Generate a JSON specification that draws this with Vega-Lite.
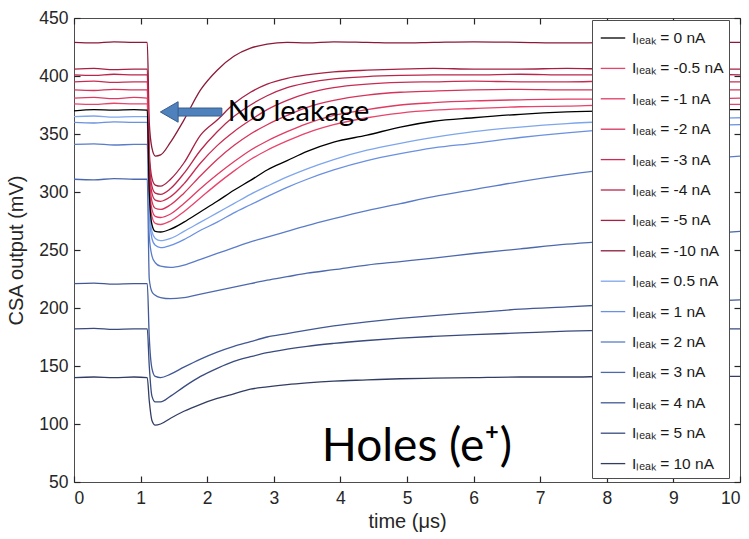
{
  "$schema": "https://vega.github.io/schema/vega-lite/v6.json",
  "width": 666,
  "height": 464,
  "autosize": {"type": "none"},
  "padding": {"left": 74, "top": 18, "right": 9, "bottom": 57},
  "background": "white",
  "config": {
    "view": {"stroke": "#4d4d4d", "strokeWidth": 1},
    "font": "Liberation Sans",
    "legend": {"labelFont": "Liberation Sans"}
  },
  "datasets": {
    "main": [
      {"t":0,"n0":370,"m05":376,"m1":381,"m2":388,"m3":395,"m4":401,"m5":406,"m10":429,"p05":365,"p1":360,"p2":341,"p3":311,"p4":221,"p5":182,"p10":140},
      {"t":0.3,"n0":371,"m05":375.5,"m1":381.5,"m2":387.5,"m3":395.5,"m4":400.5,"m5":406.5,"m10":428.5,"p05":365.5,"p1":359.5,"p2":341.5,"p3":310.5,"p4":221.5,"p5":182.5,"p10":140.5},
      {"t":0.6,"n0":370.5,"m05":376.5,"m1":380.5,"m2":388.5,"m3":394.5,"m4":401.5,"m5":405.5,"m10":429.5,"p05":364.5,"p1":360.5,"p2":340.5,"p3":311.5,"p4":220.5,"p5":181.5,"p10":140},
      {"t":0.9,"n0":371,"m05":376,"m1":381.5,"m2":388,"m3":395,"m4":401,"m5":406,"m10":429,"p05":365,"p1":360,"p2":341,"p3":311,"p4":221,"p5":182,"p10":140.5},
      {"t":1.1,"n0":370.5,"m05":376,"m1":381,"m2":388,"m3":395,"m4":401,"m5":406,"m10":429,"p05":365,"p1":360,"p2":341,"p3":311,"p4":221,"p5":182,"p10":140},
      {"t":1.13,"n0":300,"m05":302,"m1":308,"m2":315,"m3":322,"m4":328,"m5":335,"m10":360,"p05":290,"p1":284,"p2":262,"p3":225,"p4":175,"p5":150,"p10":120},
      {"t":1.17,"n0":272,"m05":279,"m1":285,"m2":292,"m3":299,"m4":305,"m5":312,"m10":338,"p05":266,"p1":260,"p2":245,"p3":214,"p4":148,"p5":124,"p10":103},
      {"t":1.22,"n0":266,"m05":273,"m1":279,"m2":286,"m3":293,"m4":299,"m5":306,"m10":331,"p05":260,"p1":254,"p2":239,"p3":211,"p4":141,"p5":119,"p10":99},
      {"t":1.3,"n0":265.5,"m05":272,"m1":278,"m2":285,"m3":292,"m4":298,"m5":305,"m10":332,"p05":258,"p1":252,"p2":236,"p3":209,"p4":140,"p5":119,"p10":100},
      {"t":1.45,"n0":268,"m05":275,"m1":281,"m2":289,"m3":296,"m4":303,"m5":311,"m10":343,"p05":260,"p1":254,"p2":235,"p3":208,"p4":143,"p5":124,"p10":105},
      {"t":1.65,"n0":274,"m05":283,"m1":290,"m2":299,"m3":307,"m4":316,"m5":325,"m10":362,"p05":266,"p1":259,"p2":237,"p3":209,"p4":149,"p5":132,"p10":111},
      {"t":1.9,"n0":283,"m05":295,"m1":303,"m2":314,"m3":325,"m4":336,"m5":349,"m10":388,"p05":274,"p1":267,"p2":242,"p3":212,"p4":156,"p5":141,"p10":117},
      {"t":2.15,"n0":292,"m05":307,"m1":315,"m2":328,"m3":340,"m4":352,"m5":362,"m10":405,"p05":282,"p1":274,"p2":247,"p3":215,"p4":162,"p5":148,"p10":122},
      {"t":2.4,"n0":301.5,"m05":318,"m1":326,"m2":340,"m3":352,"m4":365,"m5":376,"m10":417,"p05":290,"p1":282,"p2":252,"p3":218,"p4":167,"p5":154,"p10":126},
      {"t":2.65,"n0":310,"m05":328,"m1":336,"m2":350,"m3":362,"m4":375,"m5":386,"m10":424,"p05":298,"p1":289,"p2":257,"p3":221,"p4":171,"p5":158,"p10":130},
      {"t":2.9,"n0":319,"m05":336,"m1":344,"m2":358,"m3":371,"m4":383,"m5":393,"m10":427.5,"p05":305,"p1":296,"p2":261,"p3":224,"p4":175,"p5":161.5,"p10":132},
      {"t":3.2,"n0":327,"m05":344,"m1":352,"m2":366,"m3":379,"m4":390,"m5":398,"m10":429,"p05":313,"p1":304,"p2":266,"p3":227,"p4":178,"p5":164.5,"p10":134},
      {"t":3.5,"n0":335,"m05":351,"m1":359,"m2":373,"m3":385,"m4":394,"m5":401,"m10":428.5,"p05":320,"p1":311,"p2":271,"p3":230,"p4":181,"p5":167,"p10":135.5},
      {"t":3.9,"n0":343,"m05":358,"m1":366,"m2":379,"m3":390,"m4":397.5,"m5":403.5,"m10":429.5,"p05":328,"p1":319,"p2":277,"p3":233,"p4":184.5,"p5":169.5,"p10":137},
      {"t":4.4,"n0":349,"m05":364,"m1":371,"m2":383.5,"m3":393,"m4":399.5,"m5":405,"m10":429,"p05":336,"p1":327,"p2":284,"p3":237,"p4":188,"p5":172,"p10":138},
      {"t":4.9,"n0":356,"m05":368,"m1":375,"m2":386,"m3":394.5,"m4":400.5,"m5":406,"m10":428.5,"p05":342,"p1":333,"p2":290,"p3":240,"p4":191,"p5":174,"p10":139},
      {"t":5.4,"n0":361,"m05":370.5,"m1":377,"m2":387,"m3":395,"m4":401,"m5":406.5,"m10":429,"p05":347,"p1":338,"p2":296,"p3":243,"p4":193.5,"p5":175.5,"p10":139.5},
      {"t":6.0,"n0":364,"m05":372,"m1":378.5,"m2":388,"m3":395.5,"m4":401,"m5":406,"m10":429.5,"p05":352,"p1":342,"p2":302,"p3":247,"p4":196,"p5":177,"p10":140},
      {"t":6.7,"n0":367,"m05":373.5,"m1":379.5,"m2":388.5,"m3":395,"m4":401.5,"m5":406,"m10":429,"p05":356,"p1":347,"p2":309,"p3":251,"p4":199,"p5":178.5,"p10":140.5},
      {"t":7.4,"n0":369,"m05":374,"m1":380,"m2":388,"m3":395,"m4":401,"m5":406.5,"m10":428.5,"p05":359,"p1":351,"p2":315,"p3":255,"p4":201,"p5":180,"p10":140.5},
      {"t":8.1,"n0":370,"m05":375,"m1":380,"m2":388,"m3":395.5,"m4":401,"m5":406,"m10":429,"p05":361,"p1":354,"p2":320,"p3":258,"p4":203,"p5":181,"p10":141},
      {"t":8.8,"n0":370.5,"m05":375,"m1":380.5,"m2":388.5,"m3":395,"m4":401,"m5":406,"m10":429.5,"p05":362.5,"p1":356,"p2":325,"p3":261,"p4":205,"p5":181.5,"p10":141},
      {"t":9.5,"n0":371,"m05":375.5,"m1":380.5,"m2":388,"m3":395,"m4":401.5,"m5":406,"m10":429,"p05":363.5,"p1":357.5,"p2":329,"p3":264,"p4":206,"p5":182,"p10":141},
      {"t":10,"n0":371,"m05":375.5,"m1":381,"m2":388,"m3":395,"m4":401,"m5":406,"m10":429,"p05":364,"p1":358,"p2":331,"p3":266,"p4":207,"p5":182,"p10":141}
    ],
    "labels": [
      {"key":"n0","label":"Iₗₑₐₖ = 0 nA"},
      {"key":"m05","label":"Iₗₑₐₖ = -0.5 nA"},
      {"key":"m1","label":"Iₗₑₐₖ = -1 nA"},
      {"key":"m2","label":"Iₗₑₐₖ = -2 nA"},
      {"key":"m3","label":"Iₗₑₐₖ = -3 nA"},
      {"key":"m4","label":"Iₗₑₐₖ = -4 nA"},
      {"key":"m5","label":"Iₗₑₐₖ = -5 nA"},
      {"key":"m10","label":"Iₗₑₐₖ = -10 nA"},
      {"key":"p05","label":"Iₗₑₐₖ = 0.5 nA"},
      {"key":"p1","label":"Iₗₑₐₖ = 1 nA"},
      {"key":"p2","label":"Iₗₑₐₖ = 2 nA"},
      {"key":"p3","label":"Iₗₑₐₖ = 3 nA"},
      {"key":"p4","label":"Iₗₑₐₖ = 4 nA"},
      {"key":"p5","label":"Iₗₑₐₖ = 5 nA"},
      {"key":"p10","label":"Iₗₑₐₖ = 10 nA"}
    ]
  },
  "resolve": {"axis": {"x": "independent", "y": "independent"}},
  "layer": [
    {
      "data": {"name": "main"},
      "transform": [
        {"fold": ["p10","p5","p4","p3","p2","p1","p05","m10","m5","m4","m3","m2","m1","m05","n0"], "as": ["key","v"]},
        {"lookup": "key", "from": {"data": {"name": "labels"}, "key": "key", "fields": ["label"]}}
      ],
      "mark": {"type": "line", "strokeWidth": 1.3, "interpolate": "monotone"},
      "encoding": {
        "x": {"field": "t", "type": "quantitative", "scale": {"domain": [0, 10], "nice": false},
          "axis": {"orient": "bottom", "values": [0,1,2,3,4,5,6,7,8,9,10], "title": "time (μs)", "grid": false, "domain": false, "ticks": true, "tickSize": 6, "offset": -6, "tickColor": "#262626", "tickWidth": 1.2, "tickOpacity": 1, "zindex": 1, "labelFont": "Liberation Sans", "labelFontSize": 17.5, "labelColor": "#262626", "labelPadding": 7, "titleFont": "Liberation Sans", "titleFontSize": 20, "titleFontWeight": "normal", "titleColor": "#262626", "titlePadding": 5}},
        "y": {"field": "v", "type": "quantitative", "scale": {"domain": [50, 450], "nice": false, "zero": false},
          "axis": {"orient": "left", "values": [50,100,150,200,250,300,350,400,450], "title": "CSA output (mV)", "grid": false, "domain": false, "ticks": true, "tickSize": 6, "offset": -6, "tickColor": "#262626", "tickWidth": 1.2, "tickOpacity": 1, "zindex": 1, "labelFont": "Liberation Sans", "labelFontSize": 17.5, "labelColor": "#262626", "labelPadding": 6, "titleFont": "Liberation Sans", "titleFontSize": 20, "titleFontWeight": "normal", "titleColor": "#262626", "titlePadding": 12}},
        "color": {
          "field": "label", "type": "nominal",
          "scale": {
            "domain": ["Iₗₑₐₖ = 0 nA","Iₗₑₐₖ = -0.5 nA","Iₗₑₐₖ = -1 nA","Iₗₑₐₖ = -2 nA","Iₗₑₐₖ = -3 nA","Iₗₑₐₖ = -4 nA","Iₗₑₐₖ = -5 nA","Iₗₑₐₖ = -10 nA","Iₗₑₐₖ = 0.5 nA","Iₗₑₐₖ = 1 nA","Iₗₑₐₖ = 2 nA","Iₗₑₐₖ = 3 nA","Iₗₑₐₖ = 4 nA","Iₗₑₐₖ = 5 nA","Iₗₑₐₖ = 10 nA"],
            "range": ["#000000","#e8436a","#e03a62","#d6335a","#c92c53","#b9264b","#a62043","#8a1a38","#7ea6ec","#6a90e0","#5a7cc8","#4d69ad","#415894","#384a7e","#323d63"]
          },
          "legend": {"title": null, "orient": "none", "legendX": 518, "legendY": 2, "zindex": 3, "symbolType": "stroke", "symbolSize": 600, "symbolStrokeWidth": 1.3, "symbolOffset": 3, "labelFontSize": 15.5, "labelColor": "#1a1a1a", "labelOffset": 6, "rowPadding": 8.4, "padding": 5, "strokeColor": "#4d4d4d", "fillColor": "white", "cornerRadius": 0}
        }
      }
    },
    {
      "data": {"values": [{"t0": 1.53, "t1": 2.22, "v0": 365.5, "v1": 372.4}]},
      "mark": {"type": "rect", "fill": "#4f81bd", "stroke": "#385d8a", "strokeWidth": 1},
      "encoding": {
        "x": {"field": "t0", "type": "quantitative", "scale": {"domain": [0, 10], "nice": false},
          "axis": {"orient": "top", "labels": false, "title": null, "values": [0,1,2,3,4,5,6,7,8,9,10], "grid": false, "domain": false, "ticks": true, "tickSize": 6, "offset": -6, "tickColor": "#262626", "tickWidth": 1.2, "tickOpacity": 1, "zindex": 1}},
        "x2": {"field": "t1"},
        "y": {"field": "v0", "type": "quantitative", "scale": {"domain": [50, 450], "nice": false, "zero": false},
          "axis": {"orient": "right", "labels": false, "title": null, "values": [50,100,150,200,250,300,350,400,450], "grid": false, "domain": false, "ticks": true, "tickSize": 6, "offset": -6, "tickColor": "#262626", "tickWidth": 1.2, "tickOpacity": 1, "zindex": 1}},
        "y2": {"field": "v1"}
      }
    },
    {
      "data": {"values": [{"t": 1.43, "v": 369}]},
      "mark": {"type": "point", "shape": "triangle-left", "size": 420, "filled": true, "fill": "#4f81bd", "stroke": "#385d8a", "strokeWidth": 1, "opacity": 1},
      "encoding": {
        "x": {"field": "t", "type": "quantitative", "scale": {"domain": [0, 10], "nice": false}, "axis": null},
        "y": {"field": "v", "type": "quantitative", "scale": {"domain": [50, 450], "nice": false, "zero": false}, "axis": null}
      }
    },
    {
      "data": {"values": [{"t": 2.31, "v": 369, "txt": "No leakage"}]},
      "mark": {"type": "text", "align": "left", "baseline": "middle", "font": "Lato", "fontSize": 29, "color": "#000000"},
      "encoding": {
        "x": {"field": "t", "type": "quantitative", "scale": {"domain": [0, 10], "nice": false}, "axis": null},
        "y": {"field": "v", "type": "quantitative", "scale": {"domain": [50, 450], "nice": false, "zero": false}, "axis": null},
        "text": {"field": "txt"}
      }
    },
    {
      "data": {"values": [{"t": 3.72, "v": 80, "txt": "Holes (e⁺)"}]},
      "mark": {"type": "text", "align": "left", "baseline": "middle", "font": "Lato", "fontSize": 46, "color": "#000000"},
      "encoding": {
        "x": {"field": "t", "type": "quantitative", "scale": {"domain": [0, 10], "nice": false}, "axis": null},
        "y": {"field": "v", "type": "quantitative", "scale": {"domain": [50, 450], "nice": false, "zero": false}, "axis": null},
        "text": {"field": "txt"}
      }
    }
  ]
}
